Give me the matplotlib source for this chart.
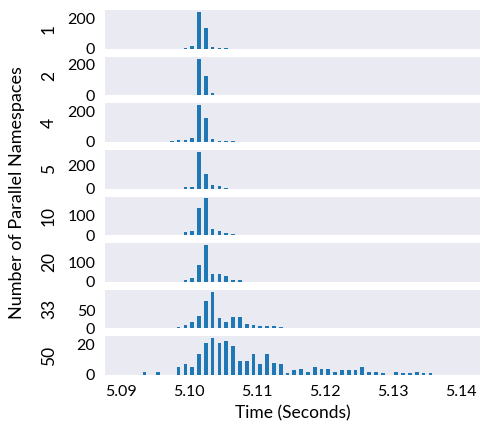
import numpy as np
import matplotlib
matplotlib.use("Agg")
import matplotlib.pyplot as plt

plt.rcParams["font.family"] = ["Lato", "DejaVu Sans"]

# histogram bins (1 ms wide), first bin centre
BIN_START = 5.0935
BIN_STEP = 0.001
N_BINS = 43

namespaces = ["1", "2", "4", "5", "10", "20", "33", "50"]

# counts per row as {bin index: count}
counts_1 = {6: 7, 7: 20, 8: 242, 9: 138, 10: 11, 11: 4, 12: 3}
counts_2 = {5: 4, 6: 5, 7: 5, 8: 240, 9: 128, 10: 15, 11: 4, 12: 3}
counts_4 = {4: 3, 5: 10, 6: 14, 7: 24, 8: 242, 9: 160, 10: 20, 11: 9,
            12: 7, 13: 6, 15: 2}
counts_5 = {6: 15, 7: 15, 8: 320, 9: 130, 10: 27, 11: 21, 12: 6}
counts_10 = {4: 2, 5: 2, 6: 14, 7: 22, 8: 140, 9: 188, 10: 29, 11: 19,
             12: 10, 13: 5, 20: 2}
counts_20 = {6: 7, 7: 19, 8: 85, 9: 188, 10: 42, 11: 39, 12: 32, 13: 10,
             14: 7}
counts_33 = {1: 1, 2: 1, 3: 1, 5: 4, 6: 9, 7: 17, 8: 33, 9: 74, 10: 100,
             11: 27, 12: 17, 13: 30, 14: 30, 15: 11, 16: 10, 17: 6, 18: 6,
             19: 6, 20: 3, 22: 2, 25: 1, 28: 1}
counts_50 = {0: 2, 2: 2, 5: 5, 6: 7, 7: 5, 8: 14, 9: 21, 10: 24, 11: 21,
             12: 22, 13: 19, 14: 9, 15: 9, 16: 14, 17: 7, 18: 14, 19: 8,
             20: 7, 21: 1, 22: 3, 23: 4, 24: 2, 25: 5, 26: 4, 27: 4, 28: 2,
             29: 3, 30: 3, 31: 3, 32: 5, 33: 2, 34: 2, 35: 1, 37: 2, 38: 1,
             39: 1, 40: 2, 41: 1, 42: 1}

all_counts = [counts_1, counts_2, counts_4, counts_5,
              counts_10, counts_20, counts_33, counts_50]

yticks = [[0, 200], [0, 200], [0, 200], [0, 200],
          [0, 100], [0, 100], [0, 50], [0, 20]]

xticks = [5.09, 5.10, 5.11, 5.12, 5.13, 5.14]

bin_centers = BIN_START + BIN_STEP * np.arange(N_BINS)

fig, axes = plt.subplots(
    len(namespaces),
    1,
    sharex=True,
    figsize=(4.82, 4.24),
    dpi=100
)

fig.subplots_adjust(
    left=0.218,
    right=0.996,
    top=0.976,
    bottom=0.1156,
    hspace=0.21
)

for ax, name, cnt, yt in zip(axes, namespaces, all_counts, yticks):

    heights = np.zeros(N_BINS)
    for i, c in cnt.items():
        heights[i] = c

    ax.bar(
        bin_centers,
        heights,
        width=0.00055,
        color="#1f77b4"
    )

    ax.set_facecolor("#EAEAF2")
    for s in ax.spines.values():
        s.set_visible(False)

    ax.set_ylim(0, heights.max() * 1.05)
    ax.set_yticks(yt)
    ax.tick_params(axis="both", length=0, labelsize=11.5, pad=7)

    ax.text(
        -0.15,
        0.5,
        name,
        transform=ax.transAxes,
        rotation=90,
        ha="center",
        va="center",
        fontsize=12.5
    )

axes[-1].set_xlim(5.0877, 5.1428)
axes[-1].set_xticks(xticks)
axes[-1].set_xticklabels([f"{v:.2f}" for v in xticks])
axes[-1].set_xlabel("Time (Seconds)", fontsize=12.5, labelpad=5)

fig.text(
    0.036,
    0.546,
    "Number of Parallel Namespaces",
    rotation=90,
    ha="center",
    va="center",
    fontsize=13
)

plt.savefig("out.png", dpi=100)
plt.close()
